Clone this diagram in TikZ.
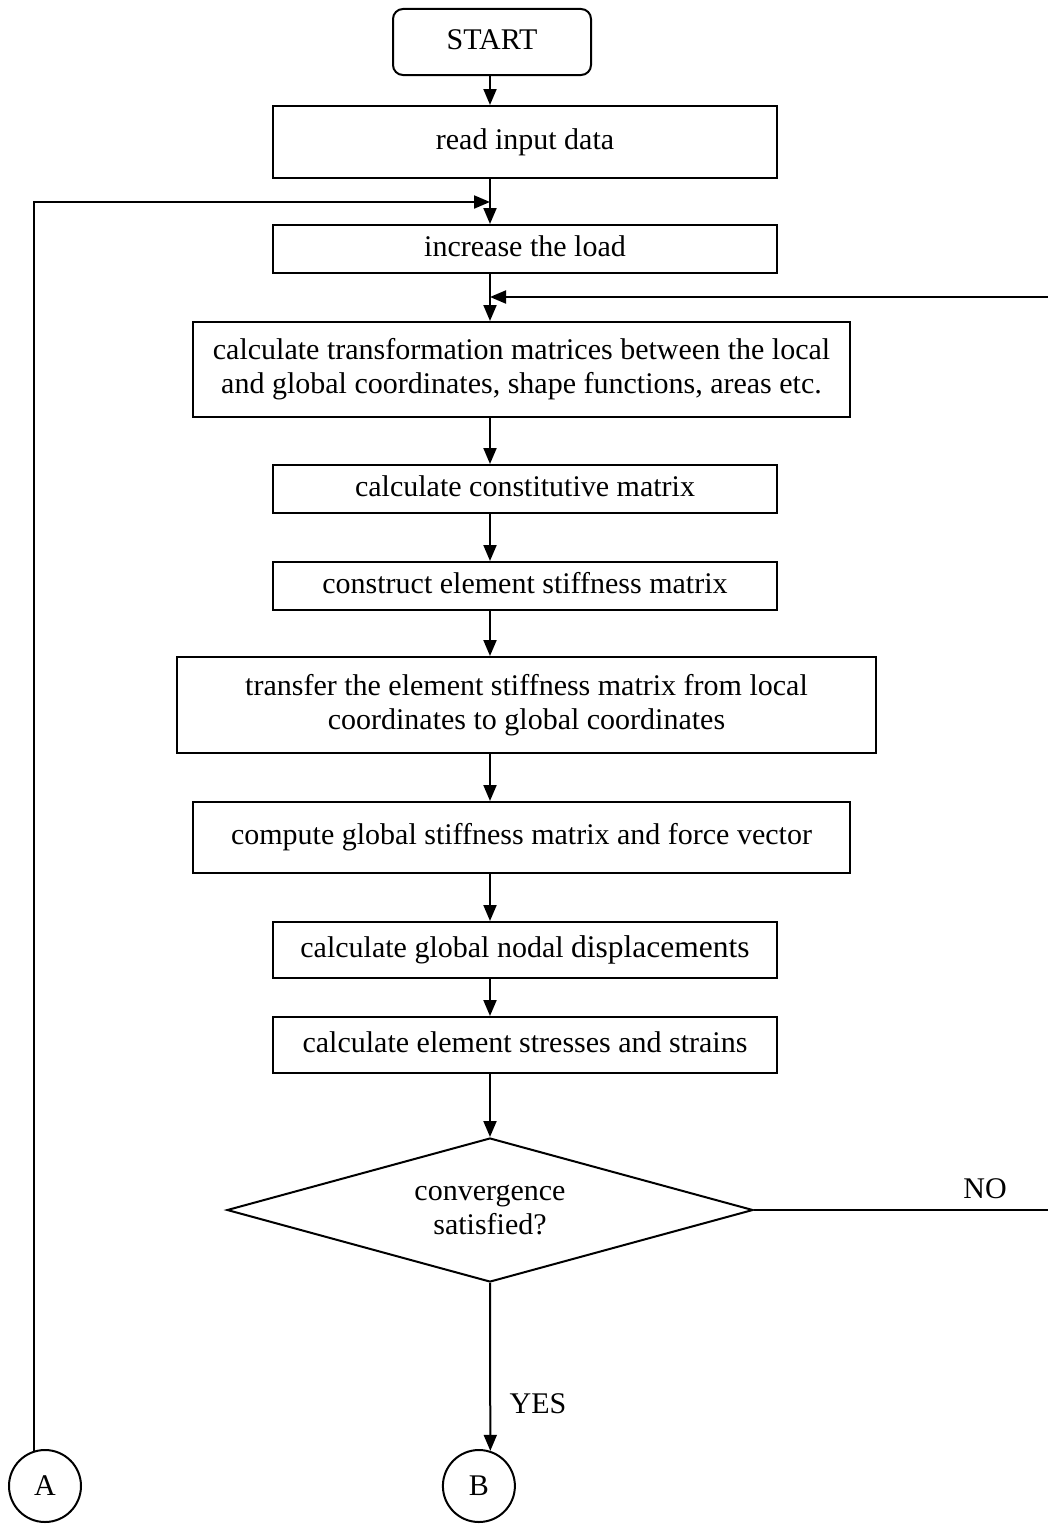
\documentclass[tikz,border=0pt]{standalone}
\usepackage{fontspec}
\setmainfont{Liberation Serif}
\usetikzlibrary{shapes.geometric,arrows.meta}
\begin{document}
\begin{tikzpicture}[x=1pt,y=-1pt,
  line width=2pt,
  txt/.style={font=\fontsize{30}{34}\selectfont},
  box/.style={draw, rectangle, inner sep=0pt, align=center, txt},
  one/.style={text height=20pt, text depth=6pt},
  arr/.style={-{Triangle[length=16pt,width=13pt]}},
  conn/.style={draw, circle, minimum size=72pt, inner sep=0pt, txt},
]
\useasboundingbox (0,0) rectangle (1048,1528);
\coordinate (ax) at (490,0);
\coordinate (rt) at (1048,0);

\node[box, one, rounded corners=10pt, minimum width=198pt, minimum height=66pt] (start) at (492,42) {START};
\node[box, one, minimum width=504pt, minimum height=72pt] (read) at (525,142) {read input data};
\node[box, one, minimum width=504pt, minimum height=48pt] (inc) at (525,249) {increase the load};
\node[box, minimum width=657pt, minimum height=95pt] (trans) at (521.5,369.5) {calculate transformation matrices between the local\\and global coordinates, shape functions, areas etc.};
\node[box, one, minimum width=504pt, minimum height=48pt] (const) at (525,489) {calculate constitutive matrix};
\node[box, one, minimum width=504pt, minimum height=48pt] (constr) at (525,586) {construct element stiffness matrix};
\node[box, minimum width=699pt, minimum height=96pt] (transf) at (526.5,705) {transfer the element stiffness matrix from local\\coordinates to global coordinates};
\node[box, one, minimum width=657pt, minimum height=71pt] (comp) at (521.5,837.5) {compute global stiffness matrix and force vector};
\node[box, one, minimum width=504pt, minimum height=56pt] (nodal) at (525,950) {calculate global nodal {\fontsize{31.5}{34}\selectfont displacements}};
\node[box, one, minimum width=504pt, minimum height=56pt] (stress) at (525,1045) {calculate element stresses and strains};
\node[draw, diamond, aspect=3.65, inner sep=0pt, align=center, txt, minimum width=526pt, minimum height=144pt] (dec) at (490,1210) {\raisebox{-7pt}{\shortstack{convergence\\[3pt]satisfied?}}};
\node[conn] (A) at (45,1486) {A};
\node[conn] (B) at (478.9,1486) {B};
\node[txt] (no) at (985,1189) {NO};
\node[txt] (yes) at (538,1404) {YES};

\coordinate (loopA) at (490,202);
\coordinate (fb) at (1048,297);

\draw[arr] (start.south -| ax) -- (read.north -| ax);
\draw[arr] (read.south -| ax) -- (inc.north -| ax);
\draw[arr] (inc.south -| ax) -- (trans.north -| ax);
\draw[arr] (trans.south -| ax) -- (const.north -| ax);
\draw[arr] (const.south -| ax) -- (constr.north -| ax);
\draw[arr] (constr.south -| ax) -- (transf.north -| ax);
\draw[arr] (transf.south -| ax) -- (comp.north -| ax);
\draw[arr] (comp.south -| ax) -- (nodal.north -| ax);
\draw[arr] (nodal.south -| ax) -- (stress.north -| ax);
\draw[arr] (stress.south -| ax) -- (dec.north);
\draw[arr] (dec.south) -- (B.72);
\draw (dec.east) -- (dec.east -| rt);
\draw[arr] (fb) -- (fb -| ax);
\draw[arr] (A.108) |- (loopA);
\end{tikzpicture}
\end{document}
